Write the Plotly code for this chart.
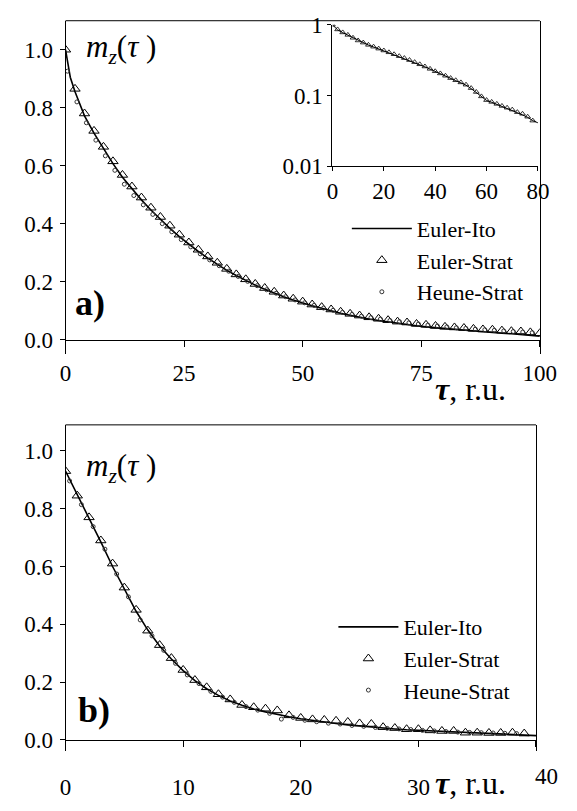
import plotly.graph_objects as go

# ---------------- data: panel a) ----------------
tau_a_tri = list(range(0, 101, 2))
euler_strat_a = [1.000, 0.865, 0.780, 0.720, 0.665, 0.615, 0.568, 0.528, 0.490, 0.455,
                 0.423, 0.393, 0.362, 0.335, 0.310, 0.287, 0.265, 0.244, 0.225, 0.208,
                 0.192, 0.178, 0.165, 0.152, 0.141, 0.131, 0.121, 0.112, 0.104, 0.096,
                 0.089, 0.083, 0.077, 0.072, 0.067, 0.062, 0.059, 0.054, 0.051, 0.047,
                 0.044, 0.042, 0.040, 0.037, 0.035, 0.034, 0.031, 0.029, 0.028, 0.025,
                 0.022]
tau_a_circ = [0.4 + 2 * k for k in range(50)]
heune_strat_a = [0.926, 0.820, 0.748, 0.688, 0.634, 0.584, 0.536, 0.497, 0.465, 0.432,
                 0.400, 0.372, 0.345, 0.320, 0.296, 0.275, 0.255, 0.236, 0.218, 0.201,
                 0.186, 0.172, 0.160, 0.148, 0.137, 0.127, 0.118, 0.109, 0.101, 0.094,
                 0.087, 0.081, 0.076, 0.071, 0.066, 0.062, 0.058, 0.054, 0.050, 0.047,
                 0.044, 0.041, 0.039, 0.036, 0.034, 0.032, 0.030, 0.028, 0.026, 0.024]
tau_a_line = [0, 1] + list(range(2, 101, 2))
euler_ito_a = [1.000, 0.905, 0.855, 0.772, 0.712, 0.657, 0.607, 0.560, 0.520, 0.482,
               0.447, 0.414, 0.384, 0.355, 0.329, 0.304, 0.281, 0.259, 0.239, 0.221,
               0.204, 0.188, 0.174, 0.160, 0.148, 0.137, 0.126, 0.117, 0.108, 0.099,
               0.091, 0.084, 0.077, 0.071, 0.066, 0.061, 0.056, 0.052, 0.048, 0.044,
               0.041, 0.038, 0.035, 0.032, 0.030, 0.027, 0.025, 0.022, 0.020, 0.018,
               0.015, 0.012]

# inset (log scale)
tau_in = list(range(0, 79, 2))
euler_strat_in = [1.0, 0.86, 0.78, 0.72, 0.655, 0.60, 0.56, 0.52, 0.49, 0.46,
                  0.433, 0.408, 0.383, 0.36, 0.338, 0.317, 0.296, 0.276, 0.257, 0.238,
                  0.22, 0.205, 0.19, 0.176, 0.164, 0.153, 0.142, 0.127, 0.112, 0.097,
                  0.086, 0.081, 0.076, 0.071, 0.067, 0.063, 0.058, 0.055, 0.050, 0.044]
tau_in_line = list(range(0, 81, 2))
euler_ito_in = [1.0, 0.85, 0.775, 0.712, 0.65, 0.597, 0.556, 0.517, 0.486, 0.456,
                0.43, 0.405, 0.38, 0.357, 0.335, 0.314, 0.293, 0.273, 0.254, 0.236,
                0.218, 0.203, 0.188, 0.174, 0.162, 0.151, 0.14, 0.125, 0.11, 0.096,
                0.085, 0.08, 0.075, 0.07, 0.066, 0.062, 0.057, 0.053, 0.049, 0.044,
                0.041]

# ---------------- data: panel b) ----------------
tau_b_tri = list(range(0, 40))
euler_strat_b = [0.930, 0.845, 0.770, 0.690, 0.610, 0.527, 0.450, 0.378, 0.328, 0.283,
                 0.242, 0.207, 0.182, 0.158, 0.140, 0.121, 0.113, 0.108, 0.102, 0.085,
                 0.076, 0.071, 0.069, 0.066, 0.062, 0.057, 0.055, 0.044, 0.041, 0.037,
                 0.037, 0.033, 0.031, 0.031, 0.025, 0.025, 0.024, 0.024, 0.025, 0.022]
tau_b_circ = [k + 0.35 for k in range(39)]
heune_strat_b = [0.896, 0.814, 0.738, 0.660, 0.574, 0.495, 0.415, 0.360, 0.310, 0.265,
                 0.225, 0.195, 0.168, 0.148, 0.130, 0.115, 0.103, 0.092, 0.072, 0.078,
                 0.068, 0.063, 0.058, 0.055, 0.050, 0.047, 0.043, 0.040, 0.038, 0.036,
                 0.033, 0.031, 0.029, 0.027, 0.026, 0.025, 0.024, 0.023, 0.022]
tau_b_line = list(range(0, 41))
euler_ito_b = [0.930, 0.850, 0.765, 0.685, 0.600, 0.520, 0.445, 0.380, 0.325, 0.280,
               0.240, 0.205, 0.177, 0.154, 0.135, 0.120, 0.107, 0.097, 0.088, 0.080,
               0.073, 0.067, 0.062, 0.057, 0.052, 0.048, 0.044, 0.041, 0.038, 0.035,
               0.033, 0.031, 0.029, 0.027, 0.025, 0.023, 0.021, 0.020, 0.018, 0.017,
               0.015]

xticks_a = [0, 25, 50, 75, 100]
xticks_b = [0, 10, 20, 30, 40]
xticks_b_text = ["0", "10", "20", "30", ""]   # "40" is drawn a little apart, as in the source
yticks = [0.0, 0.2, 0.4, 0.6, 0.8, 1.0]
yticks_in = [0.01, 0.1, 1]
yticks_in_text = ["0.01", "0.1", "1"]
xticks_in = [0, 20, 40, 60, 80]

# ---------------- figure ----------------
W, H = 577, 811
FONT = "Liberation Serif"
TICKF = dict(family=FONT, size=23, color="black")


def px_x(p):
    return p / W


def px_y(p):
    return 1 - p / H


fig = go.Figure()

tri = dict(symbol="triangle-up-open", size=9, color="black", line=dict(width=1, color="black"))
circ = dict(symbol="circle-open", size=4, color="#333", line=dict(width=1, color="#333"))

# panel a
fig.add_trace(go.Scatter(x=tau_a_line, y=euler_ito_a, mode="lines", name="Euler-Ito",
                         line=dict(color="black", width=1.6), xaxis="x", yaxis="y", legend="legend"))
fig.add_trace(go.Scatter(x=tau_a_tri, y=euler_strat_a, mode="markers", name="Euler-Strat",
                         marker=tri, xaxis="x", yaxis="y", legend="legend"))
fig.add_trace(go.Scatter(x=tau_a_circ, y=heune_strat_a, mode="markers", name="Heune-Strat",
                         marker=circ, xaxis="x", yaxis="y", legend="legend"))
# inset
fig.add_trace(go.Scatter(x=tau_in_line, y=euler_ito_in, mode="lines", showlegend=False,
                         line=dict(color="black", width=1), xaxis="x3", yaxis="y3"))
fig.add_trace(go.Scatter(x=tau_in, y=euler_strat_in, mode="markers", showlegend=False,
                         marker=dict(symbol="triangle-up-open", size=5, color="black",
                                     line=dict(width=0.8, color="black")),
                         xaxis="x3", yaxis="y3"))
# panel b
fig.add_trace(go.Scatter(x=tau_b_line, y=euler_ito_b, mode="lines", name="Euler-Ito",
                         line=dict(color="black", width=1.6), xaxis="x2", yaxis="y2", legend="legend2"))
fig.add_trace(go.Scatter(x=tau_b_tri, y=euler_strat_b, mode="markers", name="Euler-Strat",
                         marker=tri, xaxis="x2", yaxis="y2", legend="legend2"))
fig.add_trace(go.Scatter(x=tau_b_circ, y=heune_strat_b, mode="markers", name="Heune-Strat",
                         marker=circ, xaxis="x2", yaxis="y2", legend="legend2"))

ya_rng = [-0.05, 1.1]
yb_rng = [-0.04, 1.09]

common_x = dict(showgrid=False, zeroline=False, showline=True, linecolor="black", linewidth=1,
                ticks="outside", ticklen=6, tickcolor="black", tickfont=TICKF)
common_y = dict(showgrid=False, zeroline=False, showline=True, linecolor="black", linewidth=1,
                ticks="outside", ticklen=5, tickcolor="black", tickfont=TICKF, mirror=True,
                tickvals=yticks, tickformat=".1f", ticklabelstandoff=2)

LEGF = dict(family=FONT, size=22, color="black")

fig.update_layout(
    width=W, height=H,
    margin=dict(l=0, r=0, t=0, b=0),
    paper_bgcolor="white", plot_bgcolor="white",
    font=dict(family=FONT, size=23, color="black"),
    xaxis=dict(common_x, domain=[px_x(62), px_x(556)], range=[0, 100], tickvals=xticks_a,
               anchor="free", position=px_y(338), ticklabelstandoff=7),
    yaxis=dict(common_y, domain=[px_y(353), px_y(9)], range=ya_rng, anchor="x"),
    xaxis2=dict(common_x, domain=[px_x(62), px_x(552)], range=[0, 40], tickvals=xticks_b,
                ticktext=xticks_b_text, anchor="free", position=px_y(751),
                ticklabelstandoff=21),
    yaxis2=dict(common_y, domain=[px_y(763), px_y(426)], range=yb_rng, anchor="x2"),
    xaxis3=dict(showgrid=False, zeroline=False, showline=True, linecolor="black", linewidth=1,
                ticks="outside", ticklen=4, tickcolor="black", tickfont=TICKF,
                domain=[px_x(340), px_x(554)], range=[0, 80], tickvals=xticks_in, anchor="y3"),
    yaxis3=dict(type="log", showgrid=False, zeroline=False, showline=True, linecolor="black",
                linewidth=1, ticks="outside", ticklen=4, tickcolor="black", tickfont=TICKF,
                domain=[px_y(159), px_y(13)], range=[-2, 0.003], tickvals=yticks_in,
                ticktext=yticks_in_text, anchor="x3"),
    legend=dict(x=px_x(355), y=px_y(202), xanchor="left", yanchor="top",
                font=LEGF, bgcolor="rgba(0,0,0,0)", tracegroupgap=0, itemwidth=60),
    legend2=dict(x=px_x(341), y=px_y(613), xanchor="left", yanchor="top",
                 font=LEGF, bgcolor="rgba(0,0,0,0)", tracegroupgap=0, itemwidth=60),
    showlegend=True,
)

# top borders of the two main frames
for xr, yr in (("x domain", "y domain"), ("x2 domain", "y2 domain")):
    fig.add_shape(type="line", xref=xr, yref=yr, x0=0, x1=1, y0=1, y1=1,
                  line=dict(color="black", width=1))

ann = []
ann.append(dict(text="<b>a)</b>", x=px_x(70), y=px_y(300), xanchor="left", yanchor="middle",
                font=dict(family=FONT, size=36, color="black")))
ann.append(dict(text="<b>b)</b>", x=px_x(73), y=px_y(720), xanchor="left", yanchor="middle",
                font=dict(family=FONT, size=36, color="black")))
mz = "<i>m</i><sub><i>z</i></sub>(<i>τ</i> )"
ann.append(dict(text=mz, x=px_x(81), y=px_y(38), xanchor="left", yanchor="middle",
                font=dict(family=FONT, size=31, color="black")))
ann.append(dict(text=mz, x=px_x(81), y=px_y(471), xanchor="left", yanchor="middle",
                font=dict(family=FONT, size=31, color="black")))
tl = "<b><i>τ</i></b>, r.u."
ann.append(dict(text=tl, x=px_x(445), y=px_y(389), xanchor="left", yanchor="middle",
                font=dict(family=FONT, size=32, color="black")))
ann.append(dict(text=tl, x=px_x(445), y=px_y(796), xanchor="left", yanchor="middle",
                font=dict(family=FONT, size=32, color="black")))
ann.append(dict(text=str(xticks_b[-1]), x=px_x(563), y=px_y(789), xanchor="center",
                yanchor="middle", font=TICKF))
for a in ann:
    a.update(xref="paper", yref="paper", showarrow=False)
fig.update_layout(annotations=ann)

fig.write_html(
    "out.html",
    config={"displayModeBar": False},
    post_script=("document.documentElement.style.margin='0';"
                 "document.documentElement.style.overflow='hidden';"
                 "document.body.style.margin='0';document.body.style.padding='0';"
                 "document.body.style.overflow='hidden';"),
)
